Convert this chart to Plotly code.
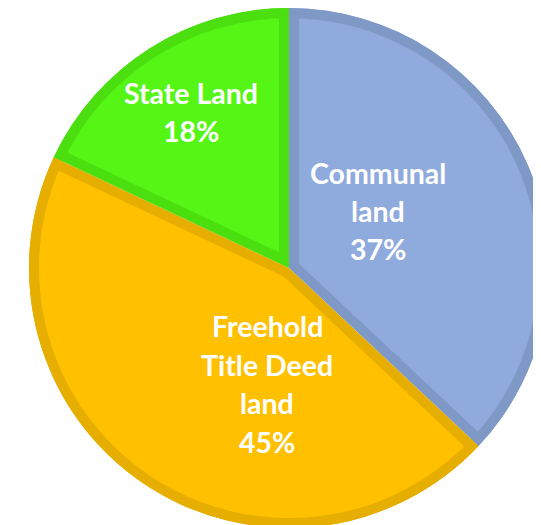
import math
import plotly.graph_objects as go

# ---- data ----
labels = ["Communal land", "Freehold Title Deed land", "State Land"]
values = [37, 45, 18]
label_lines = [["Communal", "land"], ["Freehold", "Title Deed", "land"], ["State Land"]]

# ---- style ----
fill_colors = ["#8FAADC", "#FFC000", "#55F516"]
edge_colors = ["#7F99C7", "#E6AE00", "#4BDF10"]

W, H = 541, 525
CX, CY, R = 281, 260, 260     # pie centre / radius in pixels (figure coords)
BW = 10                        # slice border width in pixels

# label block centres (pixels, figure coords) and line spacing
label_pos = [(370, 203), (259, 376), (183, 104)]
LINE_GAP = 38.5

dom = dict(x=[(CX - R) / W, (CX + R) / W], y=[1 - (CY + R) / H, 1 - (CY - R) / H])
common = dict(labels=labels, values=values, sort=False, direction="clockwise",
              rotation=0, domain=dom, textinfo="none", hoverinfo="skip",
              showlegend=False)

fig = go.Figure()
# base: full slices in border colours
fig.add_trace(go.Pie(marker=dict(colors=edge_colors, line=dict(width=0)), **common))

# inset slices (pulled so their straight edges sit BW inside the slice edges)
total = sum(values)
for i, v in enumerate(values):
    theta = 2 * math.pi * v / total
    d = BW / math.sin(theta / 2)
    r = R - d
    pull = [0] * len(values)
    pull[i] = d / r
    cols = ["rgba(0,0,0,0)"] * len(values)
    cols[i] = fill_colors[i]
    fig.add_trace(go.Pie(pull=pull, marker=dict(colors=cols, line=dict(width=0)), **common))

# outer ring of border colours
fig.add_trace(go.Pie(hole=(R - BW) / R, marker=dict(colors=edge_colors, line=dict(width=0)), **common))

anns = []
for i, lines in enumerate(label_lines):
    all_lines = lines + [f"{round(100 * values[i] / total)}%"]
    px, py = label_pos[i]
    n = len(all_lines)
    for k, t in enumerate(all_lines):
        yy = py + (k - (n - 1) / 2) * LINE_GAP
        anns.append(dict(x=px / W, y=1 - yy / H, xref="paper", yref="paper",
                         text=t, showarrow=False, xanchor="center", yanchor="middle",
                         font=dict(family="Lato", size=28.5, color="white", weight="bold")))

fig.update_layout(width=W, height=H, margin=dict(l=0, r=0, t=0, b=0),
                  paper_bgcolor="white", plot_bgcolor="white", annotations=anns)

fig.write_html("out.html")
